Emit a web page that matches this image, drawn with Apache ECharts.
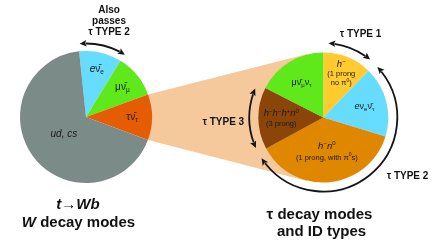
<!DOCTYPE html>
<html><head><meta charset="utf-8">
<script src="https://cdn.jsdelivr.net/npm/echarts@6/dist/echarts.min.js"></script>
<style>html,body{margin:0;padding:0;background:#fff}#c{width:436px;height:250px}</style>
</head><body><div id="c"></div>
<script>
// ---------- data ----------
const wModes = ['eν̄e', 'μν̄μ', 'τν̄τ', 'ud, cs'];
const wShares = [10.4, 10.7, 11.2, 67.7];
const wLabels = ['{i|e}{n|ν\u0304}{s|e}', '{n|μν\u0304}{s|μ}', '{n|τν\u0304}{s|τ}', '{i|ud, cs}'];

const tauModes = ['h⁻ (1 prong, no π⁰)', 'eνeν̄τ', 'h⁻n⁰ (1 prong, with π⁰s)', 'h⁻h⁻h⁺n⁰ (3 prong)', 'μν̄μντ'];
const tauShares = [12.2, 17.5, 37.4, 15.4, 17.5];
const tauLabels = [
  '{hi|h}{sp|−}\n{t|(1 prong}\n{t|no π}{ts|0}{t|)}',
  '{i|e}{n|ν}{s|e}{n|ν\u0304}{s|τ}',
  '{hi|h}{sp|−}{hi|n}{sp|0}\n{t2|(1 prong, with π}{ts|0}{t2|s)}',
  '{hi|h}{sp|−}{hi|h}{sp|−}{hi|h}{sp|+}{hi|n}{sp|0}\n{t|(3 prong)}',
  '{n|μν\u0304}{s|μ}{n|ν}{s|τ}'
];

const typeNames = ['τ TYPE 1', 'τ TYPE 2', 'τ TYPE 3'];
const typeSlices = [[0, 0], [1, 2], [3, 3]];       // tau slices covered by each ID type
const alsoPasses = ['Also', 'passes', 'τ TYPE 2'];   // applies to W slice 0
const leftTitle = ['{bi|t}{b|→}{bi|Wb}', '{bi|W}{b| decay modes}'];
const rightTitle = ['{b|τ decay modes}', '{b|and ID types}'];

// ---------- styles / layout ----------
const FONT = '"Liberation Sans", Arial, Helvetica, sans-serif';
const wColors = ['#66dcff', '#5fe81a', '#e65c05', '#7b8b88'];
const tauColors = ['#ffcb2e', '#66dcff', '#e08700', '#8b4508', '#5fe81a'];
const BAND = '#f6c99c';
const L = {cx: 86, cy: 117, r: 66, start: -6};
const R = {cx: 323.3, cy: 117.5, r: 65, start: 0};
const wLabelR = [49, 47, 46, 28];
const tauLabelR = [48, 42.5, 35, 42, 41.5];

function angles(vals, start) {
  const sum = vals.reduce((a, b) => a + b, 0);
  let c = start; const out = [];
  vals.forEach(v => { const a0 = c; c += 360 * v / sum; out.push([a0, c]); });
  return out;
}
function pt(C, r, th) {
  const t = th * Math.PI / 180;
  return [C.cx + r * Math.sin(t), C.cy - r * Math.cos(t)];
}
const wAng = angles(wShares, L.start);
const tAng = angles(tauShares, R.start);

const g = [];
// band connecting tau slice to tau pie (tangent lines)
(function () {
  const tau = wAng[2];
  const P1 = pt(L, L.r, tau[0]), P2 = pt(L, L.r, tau[1]);
  function tangent(P, upper) {
    const dx = P[0] - R.cx, dy = P[1] - R.cy;
    const d = Math.hypot(dx, dy), rho = R.r + 0.5;
    const a = Math.acos(rho / d), phi = Math.atan2(dy, dx);
    const c1 = [R.cx + rho * Math.cos(phi + a), R.cy + rho * Math.sin(phi + a)];
    const c2 = [R.cx + rho * Math.cos(phi - a), R.cy + rho * Math.sin(phi - a)];
    return upper ? (c1[1] < c2[1] ? c1 : c2) : (c1[1] > c2[1] ? c1 : c2);
  }
  g.push({type: 'polygon', z: 1, silent: true,
    shape: {points: [P1, tangent(P1, true), [R.cx, R.cy], tangent(P2, false), P2]},
    style: {fill: BAND}});
})();

// arrows
const AL = 7, AW = 6.5, STROKE = '#151515';
function head(C, rho, th, dir) {
  const tip = pt(C, rho, th), t = th * Math.PI / 180;
  const tx = Math.cos(t) * dir, ty = Math.sin(t) * dir;
  const nx = Math.sin(t), ny = -Math.cos(t);
  const bx = tip[0] - tx * AL, by = tip[1] - ty * AL;
  g.push({type: 'polygon', z: 10, silent: true,
    shape: {points: [tip, [bx + nx * AW / 2, by + ny * AW / 2], [bx + tx * 1.5, by + ty * 1.5], [bx - nx * AW / 2, by - ny * AW / 2]]},
    style: {fill: STROKE}});
}
function arrow(C, rho, a0, a1) {
  const d = (AL - 1) / rho * 180 / Math.PI;
  g.push({type: 'arc', z: 10, silent: true,
    shape: {cx: C.cx, cy: C.cy, r: rho, startAngle: (a0 + d - 90) * Math.PI / 180, endAngle: (a1 - d - 90) * Math.PI / 180, clockwise: true},
    style: {stroke: STROKE, lineWidth: 1.8, fill: 'none'}});
  head(C, rho, a1, 1); head(C, rho, a0, -1);
}
arrow(L, 73.5, wAng[0][0] + 1, wAng[0][1] + 0.5);
const typeArrow = [{rho: 74.5, i0: 4, i1: 5}, {rho: 74, i0: 3, i1: 5}, {rho: 74, i0: 4, i1: 4}];
typeSlices.forEach((s, k) => {
  arrow(R, typeArrow[k].rho, tAng[s[0]][0] + typeArrow[k].i0, tAng[s[1]][1] - typeArrow[k].i1);
});

// text helpers
function txt(x, y, text, rich, extra) {
  g.push(Object.assign({type: 'text', z: 12, silent: true, x: x, y: y,
    style: {text: text, align: 'center', verticalAlign: 'middle', fill: '#111', font: '10px ' + FONT, rich: rich}}, extra || {}));
}
const richL = {
  i: {fontFamily: FONT, fontSize: 10, fontStyle: 'italic', lineHeight: 13, fill: '#1a1a1a'},
  n: {fontFamily: FONT, fontSize: 10, lineHeight: 13, fill: '#1a1a1a'},
  s: {fontFamily: FONT, fontSize: 6.5, lineHeight: 7, verticalAlign: 'bottom', fill: '#1a1a1a'}
};
const richR = {
  i: {fontFamily: FONT, fontSize: 9, fontStyle: 'italic', lineHeight: 12, fill: '#1a1a1a'},
  n: {fontFamily: FONT, fontSize: 9, lineHeight: 12, fill: '#1a1a1a'},
  s: {fontFamily: FONT, fontSize: 6, lineHeight: 6, verticalAlign: 'bottom', fill: '#1a1a1a'},
  hi: {fontFamily: FONT, fontSize: 9.5, fontStyle: 'italic', lineHeight: 11, fill: '#1a1a1a'},
  sp: {fontFamily: FONT, fontSize: 6, lineHeight: 7, verticalAlign: 'top', fill: '#1a1a1a'},
  t: {fontFamily: FONT, fontSize: 7.5, lineHeight: 9, fill: '#1a1a1a'},
  t2: {fontFamily: FONT, fontSize: 7.5, lineHeight: 12, fill: '#1a1a1a'},
  ts: {fontFamily: FONT, fontSize: 5, lineHeight: 5, verticalAlign: 'top', fill: '#1a1a1a'}
};
wLabels.forEach((s, i) => { const p = pt(L, wLabelR[i], (wAng[i][0] + wAng[i][1]) / 2); txt(p[0], p[1], s, richL); });
tauLabels.forEach((s, i) => { const p = pt(R, tauLabelR[i], (tAng[i][0] + tAng[i][1]) / 2); txt(p[0], p[1], s, richR); });

const richB = {b: {fontFamily: FONT, fontSize: 10, fontWeight: 'bold', lineHeight: 11, fill: '#111'}};
txt(109, 21, alsoPasses.map(s => '{b|' + s + '}').join('\n'), richB);
const typePos = [[360.5, 34], [407.5, 176], [223.3, 122]];
typeNames.forEach((s, k) => txt(typePos[k][0], typePos[k][1], '{b|' + s + '}', richB));

const richT = {
  b: {fontFamily: FONT, fontSize: 15, fontWeight: 'bold', fill: '#111'},
  bi: {fontFamily: FONT, fontSize: 15, fontWeight: 'bold', fontStyle: 'italic', fill: '#111'}
};
txt(78, 205, leftTitle[0], richT);
txt(78.5, 222.5, leftTitle[1], richT);
txt(319.5, 215, rightTitle[0], richT);
txt(321.5, 232, rightTitle[1], richT);

const pieBase = {type: 'pie', clockwise: true, silent: true, z: 5, animation: false,
  label: {show: false}, labelLine: {show: false}, emphasis: {disabled: true},
  itemStyle: {borderWidth: 0}};
const chart = echarts.init(document.getElementById('c'), null, {renderer: 'canvas'});
chart.setOption({
  animation: false,
  series: [
    Object.assign({}, pieBase, {name: 'W decay modes', center: [L.cx, L.cy], radius: L.r, startAngle: 90 - L.start,
      data: wShares.map((v, i) => ({value: v, name: wModes[i], itemStyle: {color: wColors[i]}}))}),
    Object.assign({}, pieBase, {name: 'tau decay modes', center: [R.cx, R.cy], radius: R.r, startAngle: 90 - R.start,
      data: tauShares.map((v, i) => ({value: v, name: tauModes[i], itemStyle: {color: tauColors[i]}}))})
  ],
  graphic: g
});
</script></body></html>
